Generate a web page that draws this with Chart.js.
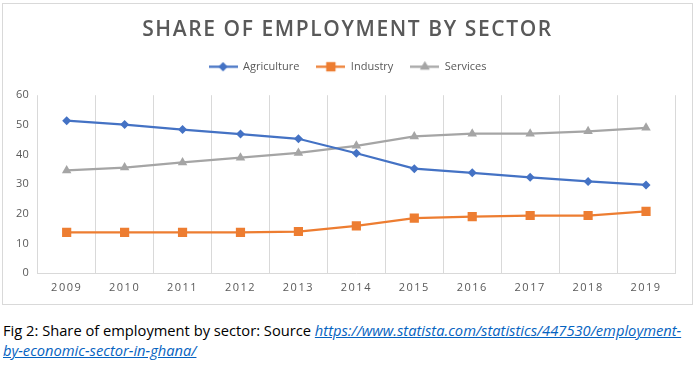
<!DOCTYPE html>
<html>
<head>
<meta charset="utf-8">
<script src="https://cdn.jsdelivr.net/npm/chart.js@4.4.1/dist/chart.umd.min.js"></script>
<style>
    body { margin: 0; background: #fff; width: 694px; height: 365px; overflow: hidden; font-family: "Open Sans", sans-serif; }
    #box { position: absolute; left: 2px; top: 3px; width: 689px; height: 300px; border: 1px solid #d9d9d9; }
    #cap { position: absolute; left: 3px; top: 320px; font-size: 14.7px; line-height: 20px; color: #000; white-space: nowrap; }
    #cap a { color: #0563c1; font-style: italic; }
</style>
</head>
<body>
<div id="box"><canvas id="myChart" width="689" height="300"></canvas></div>
<div id="cap">Fig 2: Share of employment by sector: Source <a href="#">https://www.statista.com/statistics/447530/employment-<br>by-economic-sector-in-ghana/</a></div>
<script>
const years = ["2009", "2010", "2011", "2012", "2013", "2014", "2015", "2016", "2017", "2018", "2019"];
const agriculture = [51.4, 50.1, 48.4, 46.9, 45.3, 40.4, 35.2, 33.8, 32.3, 30.9, 29.7];
const industry = [13.7, 13.7, 13.7, 13.7, 14.0, 15.9, 18.5, 19.0, 19.4, 19.4, 20.8];
const services = [34.6, 35.6, 37.3, 38.9, 40.5, 42.9, 46.1, 47.0, 47.0, 47.8, 49.0];
const yTicks = [0, 10, 20, 30, 40, 50, 60];

const blue = "#4472C4";
const orange = "#ED7D31";
const grey = "#A5A5A5";
const textGrey = "#595959";

// little line+marker pictures for the legend, like excel does
function legendIcon(color, style, r) {
    const c = document.createElement("canvas");
    c.width = 29;
    c.height = 13;
    const ctx = c.getContext("2d");
    ctx.strokeStyle = color;
    ctx.lineWidth = 2.25;
    ctx.beginPath();
    ctx.moveTo(0, 6.5);
    ctx.lineTo(29, 6.5);
    ctx.stroke();
    ctx.fillStyle = color;
    Chart.helpers.drawPoint(ctx, { pointStyle: style, radius: r, borderWidth: 0 }, 14.5, 6.5);
    ctx.fill();
    return c;
}

// excel spaces out the title and the year labels a bit
const letterSpacing = {
    id: "letterSpacing",
    afterLayout(chart) {
        const patch = (obj, name, sp) => {
            if (!obj || obj["_ls_" + name]) return;
            const orig = obj[name].bind(obj);
            obj[name] = function (...args) {
                chart.ctx.save();
                chart.ctx.letterSpacing = sp;
                orig(...args);
                chart.ctx.restore();
            };
            obj["_ls_" + name] = true;
        };
        patch(chart.scales.x, "drawLabels", "1.5px");
        patch(chart.titleBlock, "draw", "1.6px");
    }
};

const ctx = document.getElementById("myChart").getContext("2d");
const icons = [legendIcon(blue, "rectRot", 4.5), legendIcon(orange, "rect", 6.5), legendIcon(grey, "triangle", 5.5)];

new Chart(ctx, {
    type: "line",
    plugins: [letterSpacing],
    data: {
        labels: years,
        datasets: [
            { label: "Agriculture", data: agriculture, xAxisID: "x", yAxisID: "y", borderColor: blue, backgroundColor: blue, pointStyle: "rectRot", pointRadius: 4.5 },
            { label: "Industry", data: industry, xAxisID: "x", yAxisID: "y", borderColor: orange, backgroundColor: orange, pointStyle: "rect", pointRadius: 6.5 },
            { label: "Services", data: services, xAxisID: "x", yAxisID: "y", borderColor: grey, backgroundColor: grey, pointStyle: "triangle", pointRadius: 5.5 }
        ]
    },
    options: {
        responsive: false,
        animation: false,
        elements: {
            line: { borderWidth: 2.25, tension: 0 },
            point: { borderWidth: 0, hoverRadius: 6 }
        },
        layout: { padding: 0 },
        plugins: {
            tooltip: { enabled: false },
            title: {
                display: true,
                text: "SHARE OF EMPLOYMENT BY SECTOR",
                color: textGrey,
                font: { family: "Open Sans", size: 21, weight: "600" },
                padding: { top: 13, bottom: 2 }
            },
            legend: {
                display: true,
                position: "top",
                labels: {
                    usePointStyle: true,
                    pointStyleWidth: 29,
                    padding: 17,
                    color: textGrey,
                    font: { family: "Open Sans", size: 11 },
                    generateLabels(chart) {
                        const items = Chart.defaults.plugins.legend.labels.generateLabels(chart);
                        items.forEach((it, i) => { it.pointStyle = icons[i]; });
                        return items;
                    }
                }
            }
        },
        scales: {
            // empty axes only used to keep the plot away from the top and right edges
            spacer: {
                type: "category",
                position: "top",
                grid: { display: false },
                border: { display: false },
                ticks: { display: false },
                afterFit(scale) { scale.height = 13; }
            },
            spacerR: {
                type: "linear",
                position: "right",
                grid: { display: false },
                border: { display: false },
                ticks: { display: false },
                afterFit(scale) { scale.width = 17; }
            },
            x: {
                offset: true,
                grid: { display: true, offset: true, color: "#d9d9d9", drawTicks: false },
                border: { display: true, color: "#d9d9d9" },
                ticks: { color: textGrey, font: { family: "Open Sans", size: 11 }, padding: 8 },
                afterFit(scale) { scale.height = 31; }
            },
            y: {
                min: 0,
                max: 60,
                grid: { display: false, drawTicks: false },
                border: { display: false },
                afterBuildTicks(scale) { scale.ticks = yTicks.map(v => ({ value: v })); },
                ticks: { color: textGrey, font: { family: "Open Sans", size: 11 }, padding: 9 },
                afterFit(scale) { scale.width = 34.7; }
            }
        }
    }
});
</script>
</body>
</html>
